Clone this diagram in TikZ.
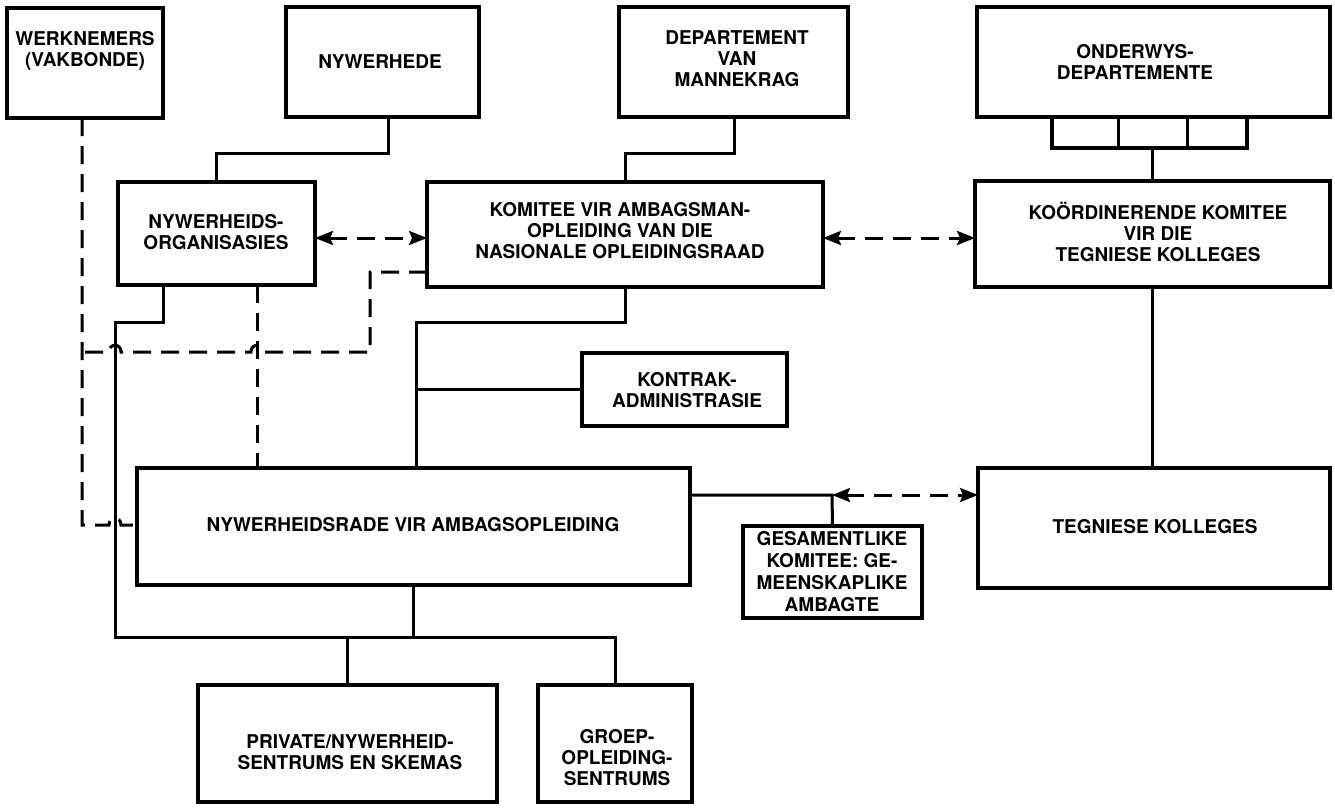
\documentclass[tikz,border=0pt]{standalone}
\usepackage{fontspec}
\setmainfont{TeX Gyre Heros}
\usetikzlibrary{arrows.meta}
\begin{document}
\begin{tikzpicture}[x=1pt,y=-1pt,
  box/.style={draw, line width=3.3pt, inner sep=0pt, outer sep=0pt},
  txt/.style={align=center, font=\fontsize{19}{21}\selectfont\bfseries, inner sep=0pt},
  conn/.style={line width=3pt},
  dconn/.style={line width=3pt, dash pattern=on 18pt off 10pt},
  both/.style={{Stealth[length=18pt,width=14pt,inset=3pt]}-{Stealth[length=18pt,width=14pt,inset=3pt]}}]
\useasboundingbox (0,0) rectangle (1335,808);

% ---- boxes ----
\node[box, minimum width=156pt, minimum height=110pt] (wk)  at (85,63) {};
\node[box, minimum width=193pt, minimum height=110pt] (nyw) at (382.5,62) {};
\node[box, minimum width=229pt, minimum height=110pt] (dep) at (733.5,62) {};
\node[box, minimum width=353pt, minimum height=110pt] (ond) at (1153.5,62) {};
\node[box, minimum width=195pt, minimum height=31pt]  (ondsub) at (1149.5,132.5) {};
\node[box, minimum width=197pt, minimum height=103pt] (org) at (216.5,233.5) {};
\node[box, minimum width=396pt, minimum height=105pt] (kom) at (625,234.5) {};
\node[box, minimum width=355pt, minimum height=106pt] (koo) at (1152.5,234) {};
\node[box, minimum width=205pt, minimum height=73pt]  (kon) at (684.5,389.5) {};
\node[box, minimum width=553pt, minimum height=117pt] (rad) at (413.5,526.5) {};
\node[box, minimum width=352pt, minimum height=120pt] (teg) at (1154,528) {};
\node[box, minimum width=179pt, minimum height=92pt]  (ges) at (832.5,572) {};
\node[box, minimum width=299pt, minimum height=117pt] (pri) at (347.5,743.5) {};
\node[box, minimum width=154pt, minimum height=117pt] (gro) at (615,743.5) {};

% dividers of the small department boxes
\draw[conn] (1118,117) -- (1118,148);
\draw[conn] (1187,117) -- (1187,148);

% ---- texts ----
\node[txt] (wkt)  at (85,51)    {WERKNEMERS\\(VAKBONDE)};
\node[txt] (nywt) at (380,62)   {NYWERHEDE};
\node[txt] (dept) at (737,59)   {DEPARTEMENT\\VAN\\MANNEKRAG};
\node[txt] (ondt) at (1135,62)  {ONDERWYS-\\DEPARTEMENTE};
\node[txt] (orgt) at (216,232)  {NYWERHEIDS-\\ORGANISASIES};
\node[txt] (komt) at (620,231)  {KOMITEE VIR AMBAGSMAN-\\OPLEIDING VAN DIE\\NASIONALE OPLEIDINGSRAAD};
\node[txt] (koot) at (1158,232) {KOÖRDINERENDE KOMITEE\\VIR DIE\\TEGNIESE KOLLEGES};
\node[txt] (kont) at (687,390)  {KONTRAK-\\ADMINISTRASIE};
\node[txt] (radt) at (413,525)  {NYWERHEIDSRADE VIR AMBAGSOPLEIDING};
\node[txt] (tegt) at (1155,527) {TEGNIESE KOLLEGES};
\node[txt, font=\fontsize{19}{22}\selectfont\bfseries] (gest) at (832,572) {GESAMENTLIKE\\KOMITEE: GE-\\MEENSKAPLIKE\\AMBAGTE};
\node[txt] (prit) at (350,752)  {PRIVATE/NYWERHEID-\\SENTRUMS EN SKEMAS};
\node[txt] (grot) at (617,758)  {GROEP-\\OPLEIDING-\\SENTRUMS};

% ---- junction points ----
\coordinate (c1) at (388,153);
\coordinate (c2) at (734,153);
\coordinate (c3) at (416,322);
\coordinate (c4) at (115,322);
\coordinate (c5) at (115,637);
\coordinate (c6) at (163,322);
\coordinate (c7) at (832,495);
\coordinate (r1) at (0,238);
\coordinate (d1) at (82,525);
\coordinate (d2) at (257,300);
\coordinate (d3) at (370,272);
\coordinate (d4) at (370,352);

% ---- solid connectors ----
\draw[conn] (nyw.south -| c1) -- (c1) -| (org.north);
\draw[conn] (dep.south -| c2) -- (c2) -| (kom.north);
\draw[conn] (ondsub.south -| koo.north) -- (koo.north);
\draw[conn] (koo.south) -- (koo.south |- teg.north);
\draw[conn] (kom.south) |- (c3) -- (c3 |- rad.north);
\draw[conn] (c3 |- kon.west) -- (kon.west);
\draw[conn] (org.south -| c6) -- (c6) -- (c4) -- (c5) -| (gro.north);
\draw[conn] (pri.north |- c5) -- (pri.north);
\draw[conn] (rad.south) -- (rad.south |- c5);
\draw[conn] (rad.east |- c7) -- (c7) -- (ges.north);

% ---- dashed links ----
\draw[dconn, both] (c7) -- (teg.west |- c7);
\draw[dconn, both] (org.east |- r1) -- (kom.west |- r1);
\draw[dconn, both] (kom.east |- r1) -- (koo.west |- r1);
\draw[dconn] (org.south -| d2) -- (rad.north -| d2);
\draw[dconn] (wk.south -| d1) -- (d1) -- (109,525)
  .. controls (109,516) and (121,516) .. (121,525) -- (d1 -| rad.west);
\draw[dconn] (kom.west |- d3) -- (d3) -- (d4) -- (263,352)
  .. controls (263,343) and (251,343) .. (251,352) -- (121,352)
  .. controls (121,343) and (109,343) .. (109,352) -- (82,352);
\end{tikzpicture}
\end{document}
